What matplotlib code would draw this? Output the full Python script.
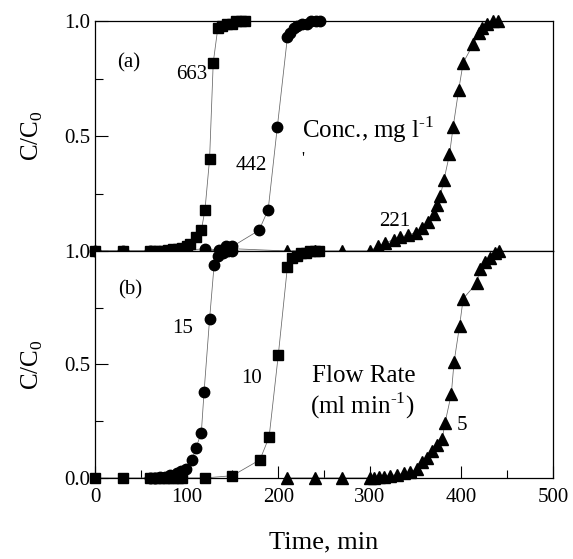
import matplotlib
matplotlib.use("Agg")
import matplotlib.pyplot as plt
from matplotlib.ticker import MultipleLocator

plt.rcParams['font.family'] = ['Liberation Serif', 'DejaVu Serif']
plt.rcParams['mathtext.fontset'] = 'custom'
plt.rcParams['mathtext.rm'] = 'Liberation Serif'

# (a) influent concentration, mg/l
sq663_t = [0, 30, 60, 65, 70, 75, 80, 85, 90, 95, 100, 104, 110, 116, 120, 125, 129,
           134, 139, 144, 149, 154, 159, 164]
sq663_y = [0, 0, 0, 0, 0, 0, 0.005, 0.01, 0.01, 0.015, 0.02, 0.03, 0.06, 0.09, 0.18, 0.40, 0.82,
           0.97, 0.98, 0.99, 0.99, 1.0, 1.0, 1.0]
ci442_t = [0, 30, 60, 90, 120, 135, 143, 150, 179, 189, 199, 210, 213, 217, 221, 226, 231,
           236, 241, 246]
ci442_y = [0, 0, 0, 0, 0.01, 0.005, 0.02, 0.02, 0.09, 0.18, 0.54, 0.93, 0.95, 0.97, 0.98, 0.99,
           0.99, 1.0, 1.0, 1.0]
tr221_t = [120, 150, 210, 240, 270, 300, 309, 317, 326, 333, 342, 350, 357, 364, 370, 373, 377,
           381, 387, 391, 397, 402, 413, 419, 423, 428, 434, 440]
tr221_y = [0, 0.01, 0, 0, 0, 0, 0.02, 0.035, 0.05, 0.06, 0.07, 0.08, 0.10, 0.125, 0.16, 0.20,
           0.24, 0.31, 0.42, 0.54, 0.70, 0.82, 0.90, 0.95, 0.97, 0.99, 1.0, 1.0]

# (b) flow rate, ml/min
ci15_t = [60, 65, 71, 76, 82, 89, 94, 99, 106, 110, 116, 119, 125, 130, 134, 140, 145, 150]
ci15_y = [0, 0, 0.005, 0.005, 0.013, 0.02, 0.03, 0.04, 0.08, 0.13, 0.20, 0.38, 0.70, 0.94,
          0.98, 0.99, 1.0, 1.0]
sq10_t = [0, 30, 60, 65, 70, 75, 80, 85, 90, 95, 120, 150, 180, 190, 200, 210, 215, 220, 225,
          230, 235, 240, 245]
sq10_y = [0, 0, 0, 0, 0, 0, 0, 0, 0, 0, 0, 0.01, 0.08, 0.18, 0.54, 0.93, 0.97, 0.98, 0.99,
          0.99, 1.0, 1.0, 1.0]
tr5_t = [210, 240, 270, 300, 305, 310, 315, 322, 330, 337, 344, 351, 357, 362, 368, 373, 379,
         382, 389, 392, 398, 402, 417, 420, 426, 431, 437, 441]
tr5_y = [0, 0, 0, 0, 0, 0.003, 0.005, 0.01, 0.015, 0.02, 0.025, 0.04, 0.07, 0.09, 0.12, 0.145,
         0.17, 0.24, 0.37, 0.51, 0.67, 0.79, 0.86, 0.92, 0.95, 0.97, 0.99, 1.0]

fig = plt.figure(figsize=(5.73, 5.59), dpi=100)
ax_a = fig.add_axes([0.166, 0.551, 0.799, 0.411])
ax_b = fig.add_axes([0.166, 0.145, 0.799, 0.406])

line_kw = dict(color='0.4', lw=0.55, zorder=2)


def series(ax, t, y, marker, ms):
    ax.plot(t, y, **line_kw)
    ax.plot(t, y, linestyle='none', marker=marker, ms=ms, color='black',
            clip_on=False, zorder=3)


series(ax_a, sq663_t, sq663_y, 's', 7.5)
series(ax_a, ci442_t, ci442_y, 'o', 7.5)
series(ax_a, tr221_t, tr221_y, '^', 8.5)

series(ax_b, ci15_t, ci15_y, 'o', 7.5)
series(ax_b, sq10_t, sq10_y, 's', 7.5)
series(ax_b, tr5_t, tr5_y, '^', 8.5)

for ax in (ax_a, ax_b):
    ax.set_xlim(0, 500)
    ax.set_ylim(0, 1)
    ax.yaxis.set_major_locator(MultipleLocator(0.5))
    ax.yaxis.set_minor_locator(MultipleLocator(0.25))
    ax.xaxis.set_major_locator(MultipleLocator(100))
    ax.xaxis.set_minor_locator(MultipleLocator(50))
    ax.tick_params(which='both', direction='in', labelsize=15, top=False, right=False)
    ax.tick_params(which='major', length=9, width=0.8)
    ax.tick_params(which='minor', length=6, width=0.8)
    for s in ax.spines.values():
        s.set_linewidth(0.9)
    ax.set_ylabel('C/C$_\\mathregular{0}$', fontsize=18, labelpad=14)

ax_a.set_yticks([0, 0.5, 1.0])
ax_a.set_yticklabels(['', '0.5', '1.0'])
ax_a.tick_params(axis='x', which='both', bottom=False, labelbottom=False)
ax_b.set_yticks([0, 0.5, 1.0])
ax_b.set_yticklabels(['0.0', '0.5', '1.0'])
ax_b.tick_params(axis='x', which='major', pad=7)
ax_b.set_xlabel('Time, min', fontsize=19, labelpad=18)

ax_a.text(37, 0.82, '(a)', fontsize=15, ha='center', va='center')
ax_a.text(105, 0.77, '663', fontsize=15, ha='center', va='center')
ax_a.text(171, 0.37, '442', fontsize=15, ha='center', va='center')
ax_a.text(226, 0.53, 'Conc., mg l$^{\\text{-1}}$', fontsize=18, ha='left', va='center')
ax_a.text(227, 0.40, "'", fontsize=12, ha='center', va='center')
ax_a.text(327, 0.13, '221', fontsize=15, ha='center', va='center')

ax_b.text(38, 0.83, '(b)', fontsize=15, ha='center', va='center')
ax_b.text(96, 0.66, '15', fontsize=15, ha='center', va='center')
ax_b.text(171, 0.44, '10', fontsize=15, ha='center', va='center')
ax_b.text(293, 0.45, 'Flow Rate', fontsize=18, ha='center', va='center')
ax_b.text(292, 0.32, '(ml min$^{\\text{-1}}$)', fontsize=18, ha='center', va='center')
ax_b.text(401, 0.23, '5', fontsize=15, ha='center', va='center')

fig.savefig('out.png', dpi=100)
